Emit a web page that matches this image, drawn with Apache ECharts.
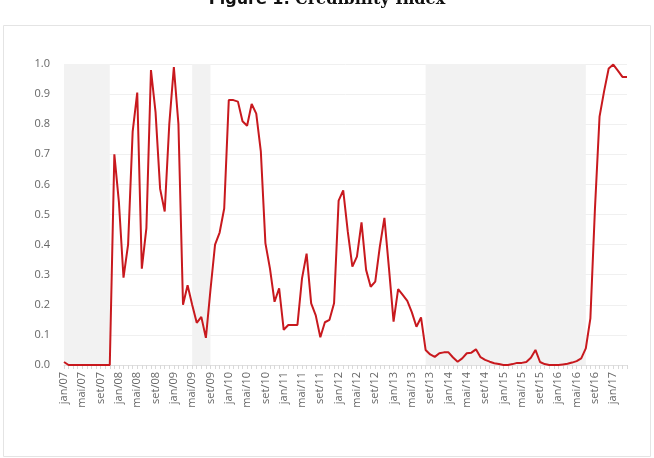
<!DOCTYPE html>
<html>
<head>
<meta charset="utf-8">
<script src="https://cdn.jsdelivr.net/npm/echarts@6/dist/echarts.min.js"></script>
<style>
html,body{margin:0;padding:0;background:#fff;}
#c{width:654px;height:458px;}
</style>
</head>
<body>
<div id="c"></div>
<script>
var monthNames = ['jan','fev','mar','abr','mai','jun','jul','ago','set','out','nov','dez'];
var startYear = 2007;
var nMonths = 124;
var categories = [];
for (var i = 0; i < nMonths; i++) {
  var y = startYear + Math.floor(i / 12);
  categories.push(monthNames[i % 12] + '/' + String(y).slice(2));
}
var credibility = [
  0.01,0,0,0,0,0,0,0,0,0,0,0.70,
  0.54,0.29,0.40,0.775,0.905,0.32,0.455,0.98,0.84,0.585,0.51,0.80,
  0.99,0.80,0.20,0.265,0.20,0.14,0.16,0.09,0.25,0.40,0.44,0.52,
  0.88,0.88,0.875,0.81,0.795,0.867,0.835,0.71,0.405,0.32,0.21,0.255,
  0.117,0.133,0.133,0.133,0.288,0.37,0.205,0.165,0.092,0.142,0.15,0.205,
  0.546,0.58,0.443,0.327,0.36,0.474,0.316,0.26,0.277,0.393,0.489,0.321,
  0.144,0.252,0.233,0.213,0.175,0.127,0.158,0.05,0.035,0.027,0.039,0.042,
  0.042,0.025,0.011,0.022,0.039,0.041,0.052,0.026,0.017,0.011,0.006,0.003,
  0,0,0.003,0.007,0.007,0.01,0.024,0.05,0.01,0.003,0,0,
  0,0.002,0.004,0.008,0.013,0.022,0.055,0.155,0.52,0.825,0.91,0.985,
  0.998,0.978,0.957,0.957
];
var shadeStarts = ['jan/07','mai/09','ago/13'];
var shadeEnds   = ['nov/07','set/09','jul/16'];
var yTicks = [0,0.1,0.2,0.3,0.4,0.5,0.6,0.7,0.8,0.9,1.0];

var areas = shadeStarts.map(function(s, k){ return [{xAxis: s}, {xAxis: shadeEnds[k]}]; });

var chart = echarts.init(document.getElementById('c'), null, {renderer:'canvas'});
chart.setOption({
  animation: false,
  backgroundColor: '#fff',
  title: {
    text: '{b|Figure 1:} {r|Credibility Index}',
    left: 'center',
    top: -14,
    textStyle: {
      rich: {
        b: {fontFamily: 'DejaVu Sans', fontWeight: 'bold', fontSize: 16, color: '#111'},
        r: {fontFamily: 'DejaVu Serif', fontSize: 16, color: '#111'}
      }
    }
  },
  graphic: [{
    type: 'rect',
    shape: {x: 3.5, y: 25.5, width: 647, height: 431},
    style: {fill: 'none', stroke: '#e4e4e4', lineWidth: 1},
    silent: true, z: -10
  }],
  grid: {left: 64, right: 27, top: 64, bottom: 93},
  xAxis: {
    type: 'category',
    data: categories,
    boundaryGap: false,
    axisLine: {show: true, lineStyle: {color: '#e0e0e0'}},
    axisTick: {show: true, interval: 0, length: 4, lineStyle: {color: '#d9d9d9'}},
    axisLabel: {
      interval: 3, rotate: 90, margin: 7,
      color: '#666', fontSize: 11, fontFamily: 'Open Sans'
    },
    splitLine: {show: false}
  },
  yAxis: {
    type: 'value',
    min: yTicks[0], max: yTicks[yTicks.length-1], interval: 0.1,
    axisLine: {show: false},
    axisTick: {show: false},
    axisLabel: {
      color: '#666', fontSize: 11, fontFamily: 'Open Sans', margin: 14,
      formatter: function(v){ return v.toFixed(1); }
    },
    splitLine: {show: true, lineStyle: {color: '#f0f0f0', width: 1}}
  },
  series: [{
    type: 'line',
    data: credibility,
    showSymbol: false,
    symbol: 'none',
    lineStyle: {color: '#c8191e', width: 2},
    itemStyle: {color: '#c8191e'},
    markArea: {
      silent: true,
      itemStyle: {color: '#f2f2f2'},
      data: areas
    }
  }]
});
</script>
</body>
</html>
